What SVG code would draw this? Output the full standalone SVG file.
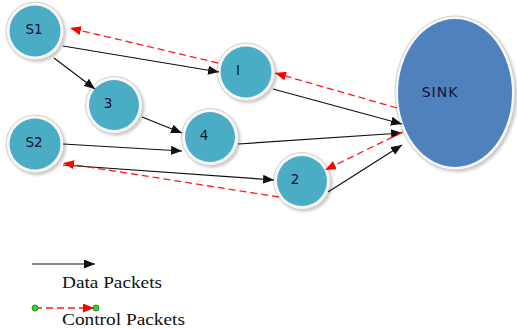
<svg xmlns="http://www.w3.org/2000/svg" width="517" height="329" viewBox="0 0 517 329">
<style>
.ring{fill:#f7f7f7;stroke:#d0d0d0;stroke-width:1}
.shadow{fill:#9a9a9a;opacity:0.55}
.node{fill:#4bacc6}
.sink{fill:#4f81bd}
.lbl{font-family:"DejaVu Sans",Verdana,sans-serif;font-size:13.5px;fill:#111133;text-anchor:middle}
.data{stroke:#111;stroke-width:1.2;fill:none;marker-end:url(#ab)}
.ctrl{stroke:#ff1a1a;stroke-width:1.3;fill:none;stroke-dasharray:7 4;marker-end:url(#ar)}
.leg{font-family:"Liberation Serif","Times New Roman",serif;font-size:17px;fill:#111}
</style>
<defs>
<marker id="ab" viewBox="0 0 11 9" refX="11" refY="4.5" markerWidth="11" markerHeight="9" markerUnits="userSpaceOnUse" orient="auto"><path d="M0,0 L11,4.5 L0,9 z" fill="#111"/></marker>
<marker id="ar" viewBox="0 0 11 9" refX="11" refY="4.5" markerWidth="11" markerHeight="9" markerUnits="userSpaceOnUse" orient="auto"><path d="M0,0 L11,4.5 L0,9 z" fill="#ff0000"/></marker>
<filter id="blur" x="-20%" y="-20%" width="140%" height="140%"><feGaussianBlur stdDeviation="1.5"/></filter>
</defs>

<g id="node-S1">
<circle class="shadow" cx="37" cy="33" r="29" filter="url(#blur)"/>
<circle class="ring" cx="35" cy="31" r="29"/>
<circle class="node" cx="35" cy="31" r="25.5"/>
<text class="lbl" x="34" y="34">S1</text>
</g>
<g id="node-I">
<circle class="shadow" cx="248" cy="74" r="29" filter="url(#blur)"/>
<circle class="ring" cx="246" cy="72" r="29"/>
<circle class="node" cx="246" cy="72" r="25.5"/>
<text class="lbl" x="238" y="74.5">I</text>
</g>
<g id="node-3">
<circle class="shadow" cx="116" cy="107" r="28.5" filter="url(#blur)"/>
<circle class="ring" cx="114" cy="105" r="28.5"/>
<circle class="node" cx="114" cy="105" r="25"/>
<text class="lbl" x="108" y="108">3</text>
</g>
<g id="node-4">
<circle class="shadow" cx="212" cy="139" r="28.5" filter="url(#blur)"/>
<circle class="ring" cx="210" cy="137" r="28.5"/>
<circle class="node" cx="210" cy="137" r="25"/>
<text class="lbl" x="204" y="139.5">4</text>
</g>
<g id="node-S2">
<circle class="shadow" cx="37" cy="146" r="29" filter="url(#blur)"/>
<circle class="ring" cx="35" cy="144" r="29"/>
<circle class="node" cx="35" cy="144" r="25.5"/>
<text class="lbl" x="34" y="146.5">S2</text>
</g>
<g id="node-2">
<circle class="shadow" cx="304" cy="183" r="28.5" filter="url(#blur)"/>
<circle class="ring" cx="302" cy="181" r="28.5"/>
<circle class="node" cx="302" cy="181" r="25"/>
<text class="lbl" x="295" y="183.5">2</text>
</g>
<g id="node-SINK">
<ellipse class="shadow" cx="457" cy="95" rx="60" ry="77" filter="url(#blur)"/>
<ellipse class="ring" cx="455" cy="93" rx="60" ry="77"/>
<ellipse class="sink" cx="455" cy="93" rx="57" ry="74"/>
<text class="lbl" x="440" y="97" style="font-size:14px;letter-spacing:1px">SINK</text>
</g>

<g id="connectors">
<line class="data" x1="63" y1="46" x2="219" y2="72"/>
<line class="data" x1="54" y1="58" x2="95" y2="89"/>
<line class="data" x1="142" y1="117" x2="182" y2="133"/>
<line class="data" x1="63" y1="144" x2="182" y2="151"/>
<line class="data" x1="273" y1="89" x2="402" y2="124"/>
<line class="data" x1="238" y1="144" x2="402" y2="133"/>
<line class="data" x1="328" y1="192" x2="402" y2="145"/>
<line class="data" x1="63" y1="165" x2="274" y2="180"/>
<line class="ctrl" x1="218" y1="63" x2="70" y2="28"/>
<line class="ctrl" x1="397" y1="108" x2="275" y2="73"/>
<line class="ctrl" x1="403" y1="132" x2="325" y2="170"/>
<line class="ctrl" x1="279" y1="197" x2="63" y2="163"/>
</g>

<g id="legend">
<line class="data" x1="32" y1="264" x2="95" y2="264"/>
<text class="leg" x="62" y="288" textLength="100" lengthAdjust="spacingAndGlyphs">Data Packets</text>
<line class="ctrl" x1="35" y1="308" x2="94" y2="308"/>
<circle cx="35" cy="308" r="3" fill="#22dd22" stroke="#2b6b2b" stroke-width="0.8"/>
<circle cx="96" cy="308" r="3" fill="#22dd22" stroke="#2b6b2b" stroke-width="0.8"/>
<text class="leg" x="62" y="325" textLength="123" lengthAdjust="spacingAndGlyphs">Control Packets</text>
</g>
</svg>
